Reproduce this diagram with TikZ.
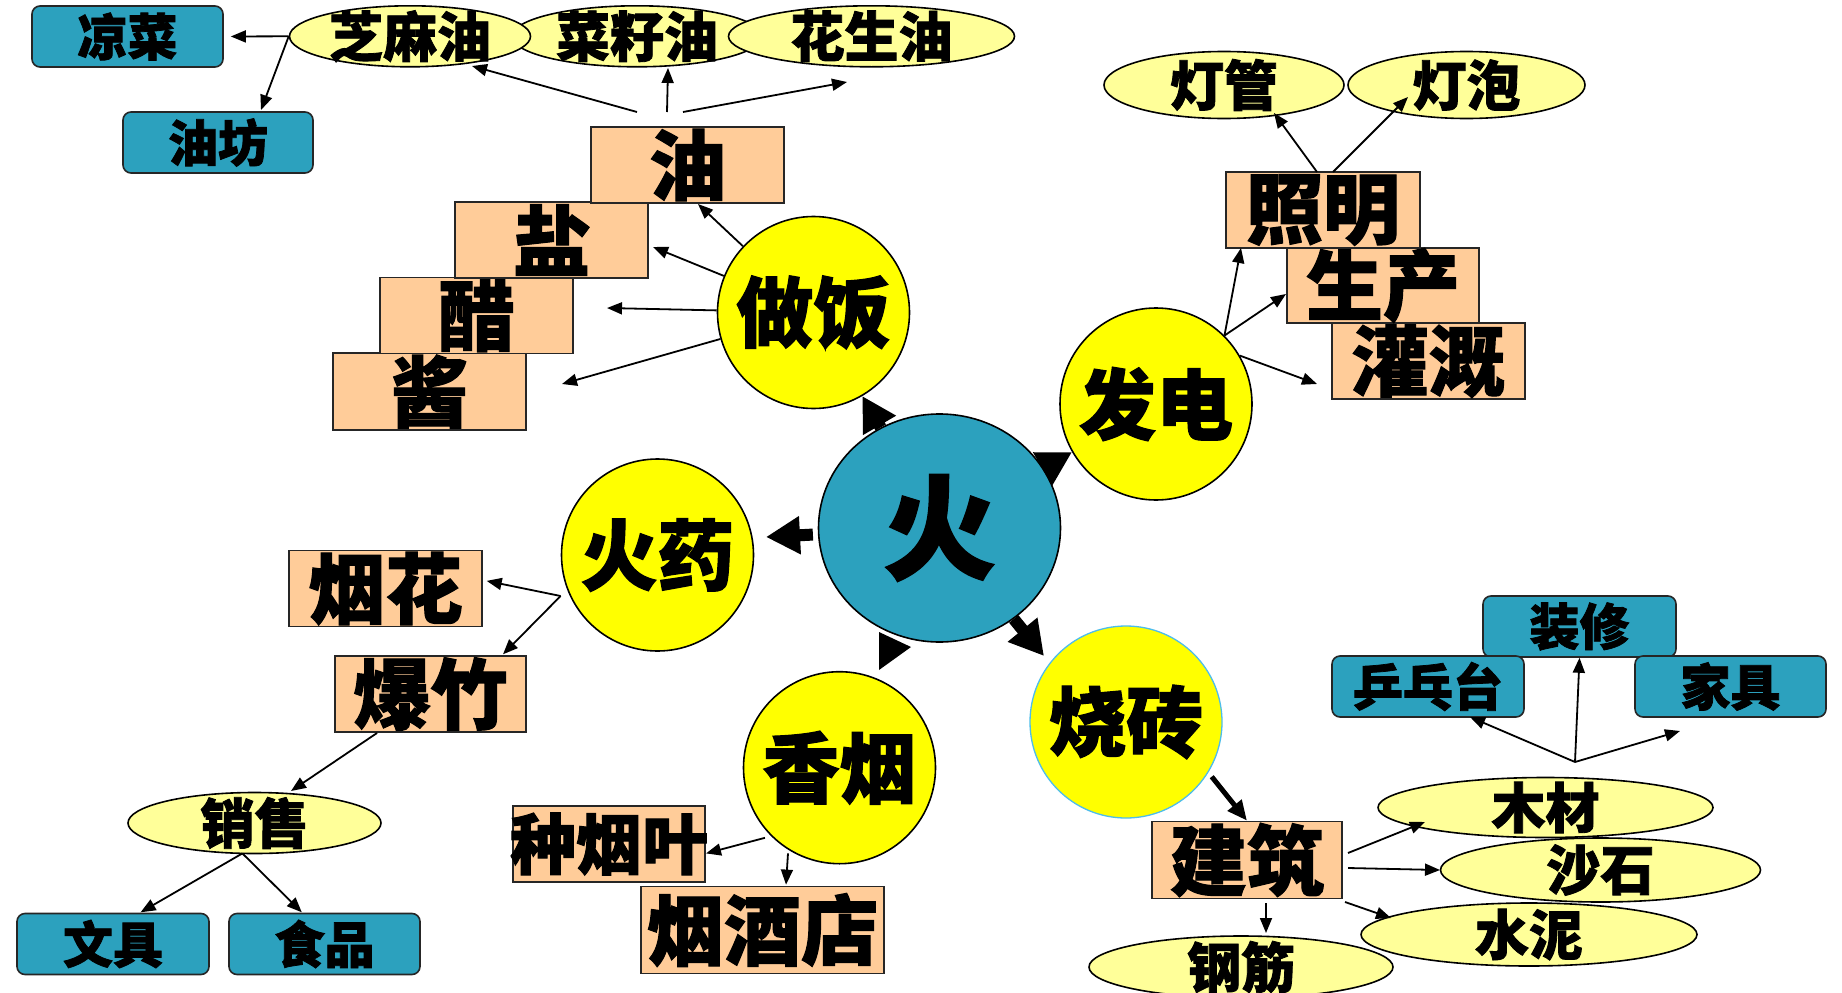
\documentclass[tikz,border=0pt]{standalone}
\usepackage{fontspec}
\setmainfont{Noto Sans CJK SC}[BoldFeatures={FakeBold=1.5}]
\usetikzlibrary{arrows.meta,shapes.geometric}
\definecolor{peach}{HTML}{FFCC99}
\definecolor{paley}{HTML}{FFFF99}
\definecolor{yel}{HTML}{FFFF00}
\definecolor{tealc}{HTML}{2CA1BE}
\definecolor{brickline}{HTML}{4DBDEB}
\newcommand\cjkf[1]{\fontsize{#1}{#1}\selectfont\bfseries}
\tikzset{
 lbl/.style={inner sep=0pt, outer sep=0pt, text=black},
 Ta/.style={label={[lbl,font=\cjkf{77pt}]center:#1}},
 Tb/.style={label={[lbl,font=\cjkf{54pt}]center:#1}},
 Tc/.style={label={[lbl,font=\cjkf{50pt}]center:#1}},
 Td/.style={label={[lbl,font=\cjkf{66pt}]center:#1}},
 Te/.style={label={[lbl,font=\cjkf{113pt}]center:#1}},
 pbox/.style={rectangle, draw=black!85, line width=1.6pt, fill=peach, inner sep=0pt, minimum width=193pt, minimum height=76pt},
 tbox/.style={rectangle, rounded corners=8pt, draw=black!85, line width=1.6pt, fill=tealc, inner sep=0pt, minimum width=191pt, minimum height=61pt},
 pell/.style={ellipse, draw=black, line width=1.6pt, fill=paley, inner sep=0pt},
 ycirc/.style={ellipse, draw=black, line width=1.6pt, fill=yel, inner sep=0pt, minimum width=192pt, minimum height=192pt},
 arr/.style={-{Triangle[length=15pt,width=12pt]}, line width=1.8pt},
 thickarr/.style={-{Triangle[length=20pt,width=17pt]}, line width=5pt},
 bigarr/.style={-{Triangle[length=34pt,width=36pt]}, line width=12pt},
}
\begin{document}
\begin{tikzpicture}[x=1pt,y=-1pt]
\useasboundingbox (0,0) rectangle (1842,993);
\fill[white] (0,0) rectangle (1842,993);

% oil ellipses
\node[pell, minimum width=250pt, minimum height=61pt, Tb=菜籽油] (czy) at (637,36.3) {};
\node[pell, minimum width=241pt, minimum height=61pt, Tb=芝麻油] (zmy) at (410,36.3) {};
\node[pell, minimum width=286pt, minimum height=61pt, Tb=花生油] (hsy) at (871.5,36.3) {};
\node[tbox, Tc=凉菜] (lc) at (127.5,36.5) {};
\node[tbox, minimum width=190pt, Tc=油坊] (yf) at (218,142.5) {};

% cooking boxes
\node[pbox, minimum height=77pt, Ta=酱] (sauce) at (429.5,391.5) {};
\node[pbox, Ta=醋] (vin) at (476.5,315.5) {};
\node[pbox, Ta=盐] (salt) at (551.5,240) {};
\node[pbox, Ta=油] (oil) at (687.5,165) {};

% electricity
\node[pell, minimum width=240pt, minimum height=67pt, Tb=灯管] (dg) at (1224,85) {};
\node[pell, minimum width=237pt, minimum height=67pt, Tb=灯泡] (dp) at (1466.5,85) {};
\node[pbox, minimum width=193pt, Ta=灌溉] (gg) at (1428.5,361) {};
\node[pbox, minimum width=192pt, minimum height=75pt, Ta=生产] (sc) at (1383,285.5) {};
\node[pbox, minimum width=194pt, Ta=照明] (zm) at (1323,210) {};

% gunpowder
\node[pbox, Ta=烟花] (yh) at (385.5,588.5) {};
\node[pbox, minimum width=191pt, Ta=爆竹] (bz) at (430.5,694) {};
\node[pell, minimum width=253pt, minimum height=61pt, Tb=销售] (xs) at (254.5,823) {};
\node[tbox, minimum width=192pt, Tc=文具] (wj) at (113,944) {};
\node[tbox, Tc=食品] (sp) at (324.5,944) {};

% cigarettes
\node[pbox, minimum width=192pt, Td=种烟叶] (zyy) at (609,844) {};
\node[pbox, minimum width=243pt, minimum height=87pt, Ta=烟酒店] (yjd) at (762.5,930) {};

% building
\node[pbox, minimum width=190pt, minimum height=77pt, Ta=建筑] (jz) at (1247,860) {};
\node[tbox, minimum width=193pt, Tc=装修] (zx) at (1579.5,626.5) {};
\node[tbox, minimum width=192pt, Tc=乒乓台] (ppt) at (1428,686.5) {};
\node[tbox, Tc=家具] (jj) at (1730.5,686.5) {};
\node[pell, minimum width=335pt, minimum height=60pt, Tb=木材] (mc) at (1545.5,807.5) {};
\node[pell, minimum width=320pt, minimum height=64pt, Tb=沙石] (ss) at (1600.5,870) {};
\node[pell, minimum width=336pt, minimum height=63pt, Tb=水泥] (sn) at (1529,934.5) {};
\node[pell, minimum width=304pt, minimum height=62pt, Tb=钢筋] (gj) at (1241,967) {};

% circles
\node[ellipse, draw=black, line width=1.6pt, fill=tealc, inner sep=0pt, minimum width=242pt, minimum height=228pt, Te=火] (fire) at (939.5,528) {};
\node[ycirc, Ta=做饭] (cook) at (813.5,312.5) {};
\node[ycirc, Ta=发电] (elec) at (1156,404) {};
\node[ycirc, Ta=火药] (gun) at (657.5,555) {};
\node[ycirc, Ta=香烟] (cig) at (839.5,767.7) {};
\node[ycirc, draw=brickline, line width=1.3pt, Ta=烧砖] (brick) at (1126,722) {};

% coordinates for free ends
\coordinate (yfT) at (261,110);
\coordinate (oilA) at (637,112);
\coordinate (oilB) at (667,112);
\coordinate (oilC) at (683,112);
\coordinate (zmyT) at (472,66);
\coordinate (czyT) at (668,68);
\coordinate (hsyT) at (847,82);
\coordinate (oilT) at (698,204);
\coordinate (saltT) at (653,247);
\coordinate (vinT) at (607,308);
\coordinate (sauceT) at (562,384);
\coordinate (zmT) at (1241,248);
\coordinate (scT) at (1286,294);
\coordinate (ggT) at (1317,384);
\coordinate (zmA) at (1317,172);
\coordinate (zmB) at (1333,172);
\coordinate (dgT) at (1274,113);
\coordinate (dpT) at (1408,97);
\coordinate (gunS) at (560.6,596);
\coordinate (yhT) at (486.7,580.9);
\coordinate (bzT) at (503,654.3);
\coordinate (bzS) at (377,733);
\coordinate (xsT) at (291,791);
\coordinate (xsS) at (242.4,853.4);
\coordinate (wjT) at (140.6,912.3);
\coordinate (spT) at (301.8,912.3);
\coordinate (cigS1) at (765,837.8);
\coordinate (zyyT) at (706,853.4);
\coordinate (cigS2) at (788,853.4);
\coordinate (yjdT) at (786,884.6);
\coordinate (brickS) at (1211.7,776.7);
\coordinate (jzS1) at (1348,853);
\coordinate (mcT) at (1425,822);
\coordinate (jzS2) at (1348,868);
\coordinate (ssT) at (1440,870);
\coordinate (jzS3) at (1345,902);
\coordinate (snT) at (1391,918);
\coordinate (jzS4) at (1266,903);
\coordinate (gjT) at (1266,933);
\coordinate (hub) at (1575,762);
\coordinate (pptT) at (1470,717);
\coordinate (jjT) at (1680,731);
\coordinate (gunT) at (766,537);
\coordinate (brickT) at (1044,656);

% thin connectors
\draw[arr, shorten >=7pt] (zmy.west) -- (lc.east);
\draw[arr] (zmy.west) -- (yfT);
\draw[arr] (oilA) -- (zmyT);
\draw[arr] (oilB) -- (czyT);
\draw[arr] (oilC) -- (hsyT);
\draw[arr] (cook) -- (oilT);
\draw[arr] (cook) -- (saltT);
\draw[arr] (cook) -- (vinT);
\draw[arr] (cook) -- (sauceT);
\draw[arr] (elec.45) -- (zmT);
\draw[arr] (elec.45) -- (scT);
\draw[arr] (elec.30) -- (ggT);
\draw[arr] (zmA) -- (dgT);
\draw[arr] (zmB) -- (dpT);
\draw[arr] (gunS) -- (yhT);
\draw[arr] (gunS) -- (bzT);
\draw[arr] (bzS) -- (xsT);
\draw[arr] (xsS) -- (wjT);
\draw[arr] (xsS) -- (spT);
\draw[arr] (cigS1) -- (zyyT);
\draw[arr] (cigS2) -- (yjdT);
\draw[thickarr] (brickS) -- (jz.north);
\draw[arr] (jzS1) -- (mcT);
\draw[arr] (jzS2) -- (ssT);
\draw[arr] (jzS3) -- (snT);
\draw[arr] (jzS4) -- (gjT);
\draw[arr] (hub) -- (zx.south);
\draw[arr] (hub) -- (pptT);
\draw[arr] (hub) -- (jjT);

% big arrows from the centre
\draw[bigarr] (fire) -- (cook);
\draw[bigarr] (fire) -- (elec);
\draw[bigarr, shorten <=5pt] (fire) -- (gunT);
\draw[bigarr] (fire) -- (brickT);
\fill[black] (879,632) -- (879,670) -- (911,647) -- cycle;
\end{tikzpicture}
\end{document}
